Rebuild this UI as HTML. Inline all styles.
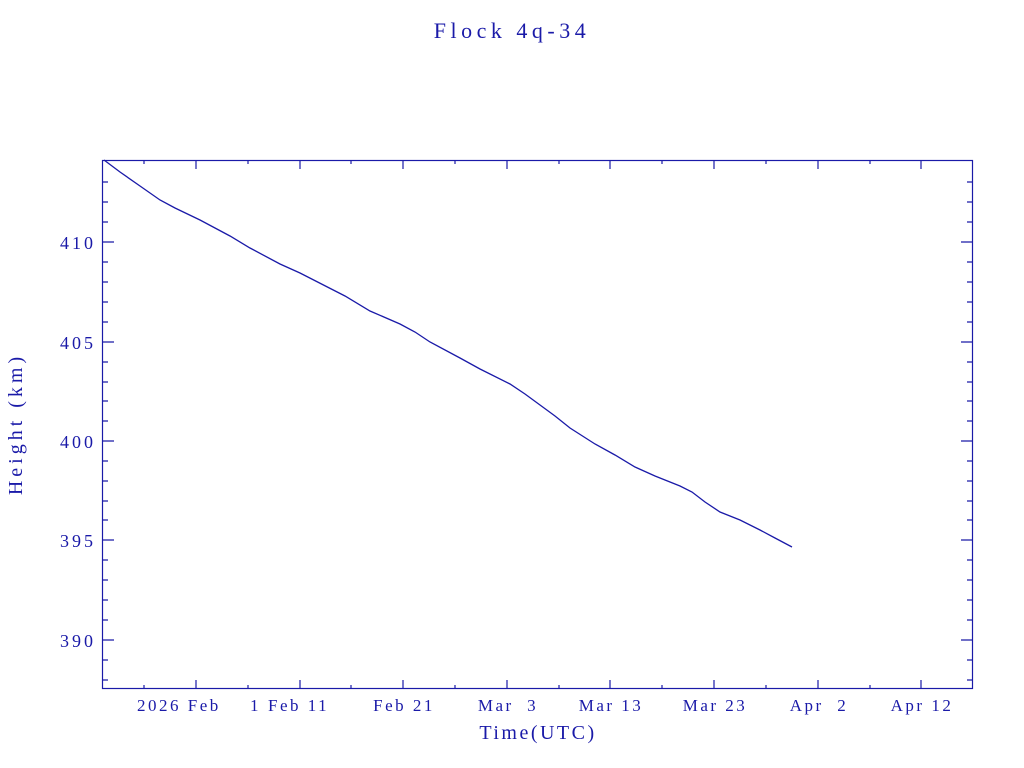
<!DOCTYPE html>
<html><head><meta charset="utf-8"><style>
html,body{margin:0;padding:0;background:#fff;width:1024px;height:768px;overflow:hidden}
text{font-family:"Liberation Serif",serif;fill:#1a1aa8;white-space:pre}
</style></head><body>
<svg width="1024" height="768" xmlns="http://www.w3.org/2000/svg" xml:space="preserve">
<text x="512" y="38" font-size="22" text-anchor="middle" letter-spacing="4.5">Flock 4q-34</text>
<rect x="102.5" y="160.5" width="870" height="528" fill="none" stroke="#1a1aa8" stroke-width="1.2"/>
<g stroke="#1a1aa8" stroke-width="1.2">
<path d="M102 242h12M973 242h-12M102 342h12M973 342h-12M102 441h12M973 441h-12M102 540h12M973 540h-12M102 640h12M973 640h-12"/>
<path d="M102 182h6M973 182h-6M102 202h6M973 202h-6M102 222h6M973 222h-6M102 262h6M973 262h-6M102 282h6M973 282h-6M102 302h6M973 302h-6M102 322h6M973 322h-6M102 362h6M973 362h-6M102 382h6M973 382h-6M102 401h6M973 401h-6M102 421h6M973 421h-6M102 461h6M973 461h-6M102 481h6M973 481h-6M102 501h6M973 501h-6M102 520h6M973 520h-6M102 560h6M973 560h-6M102 580h6M973 580h-6M102 600h6M973 600h-6M102 620h6M973 620h-6M102 660h6M973 660h-6M102 680h6M973 680h-6"/>
<path d="M196 689v-9M196 160v9M300 689v-9M300 160v9M403 689v-9M403 160v9M507 689v-9M507 160v9M610 689v-9M610 160v9M714 689v-9M714 160v9M818 689v-9M818 160v9M921 689v-9M921 160v9"/>
<path d="M144 689v-4M144 160v4M248 689v-4M248 160v4M351 689v-4M351 160v4M455 689v-4M455 160v4M559 689v-4M559 160v4M662 689v-4M662 160v4M766 689v-4M766 160v4M870 689v-4M870 160v4"/>
</g>
<g font-size="18" text-anchor="end" letter-spacing="3">
<text x="96" y="249">410</text><text x="96" y="349">405</text><text x="96" y="448">400</text><text x="96" y="547">395</text><text x="96" y="647">390</text>
</g>
<g font-size="17" letter-spacing="2.5">
<text x="137" y="711">2026 Feb</text><text x="250" y="711">1</text><text x="268" y="711">Feb 11</text>
</g>
<g font-size="17" text-anchor="middle" letter-spacing="2.5">
<text x="404" y="711">Feb 21</text><text x="508" y="711">Mar  3</text><text x="611" y="711">Mar 13</text><text x="715" y="711">Mar 23</text><text x="819" y="711">Apr  2</text><text x="922" y="711">Apr 12</text>
</g>
<text x="538" y="739" font-size="20" text-anchor="middle" letter-spacing="2.5">Time(UTC)</text>
<text transform="translate(22,424) rotate(-90)" font-size="20" text-anchor="middle" letter-spacing="4">Height (km)</text>
<polyline fill="none" stroke="#1a1aa8" stroke-width="1.3" points="104,160 120,172 140,186 160,200 175,208 200,220 230,236 250,248 280,264 300,273 345,296 370,311 400,324 415,332 430,342 460,358 480,369 510,384 525,394 540,405 555,416 570,428 595,444 615,455 635,467 655,476 680,486 692,492 705,502 720,512 740,520 760,530 775,538 792,547"/>
</svg>
</body></html>
